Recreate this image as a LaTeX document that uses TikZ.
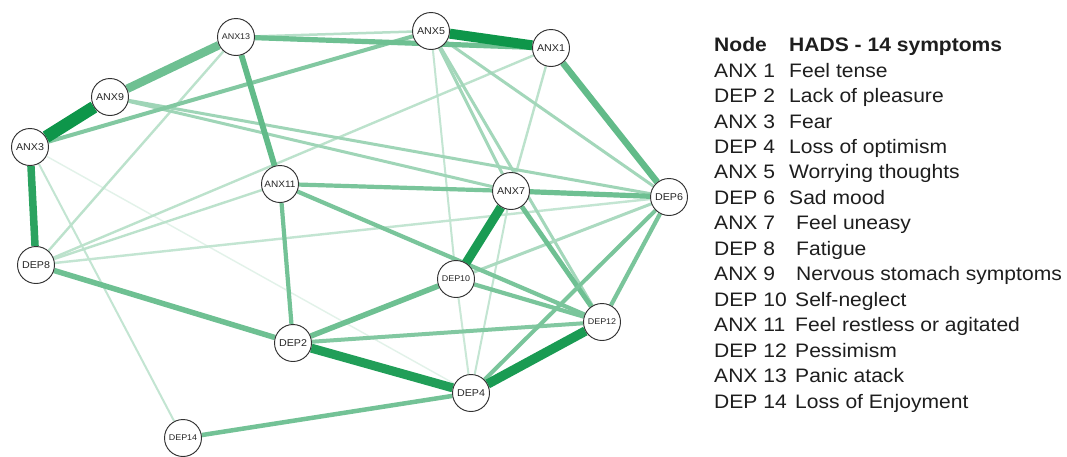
\documentclass[tikz,border=0pt]{standalone}
\usepackage{fontspec}
\setmainfont{Liberation Sans}[FakeStretch=1.08]
\pgfdeclarelayer{paper}
\pgfdeclarelayer{bg}
\pgfsetlayers{paper,bg,main}
\definecolor{edgegreen}{RGB}{14,150,74}
\definecolor{ink}{RGB}{30,30,30}
\tikzset{
  sym/.style={circle, draw=black!80, line width=0.95pt, fill=white, minimum size=37pt,
              inner sep=0pt, text=black!85, font=\fontsize{9.9}{10}\selectfont},
  symsmall/.style={sym, font=\fontsize{8.3}{9}\selectfont},
  e/.style 2 args={line width=#1pt, draw=edgegreen!#2!white},
  legend/.style={anchor=base west, inner sep=0pt, text=ink, font=\fontsize{19.5}{20}\selectfont},
}
\begin{document}
\begin{tikzpicture}[x=1pt, y=-1pt]
\begin{pgfonlayer}{paper}
\path[use as bounding box, fill=white] (0,0) rectangle (1067,455);
\end{pgfonlayer}

% symptom nodes
\node[symsmall] (anx13) at (236,37) {ANX13};
\node[sym] (anx5) at (431,31) {ANX5};
\node[sym] (anx1) at (551,48) {ANX1};
\node[sym] (anx9) at (110,97) {ANX9};
\node[sym] (anx3) at (30,147) {ANX3};
\node[symsmall, font=\fontsize{9.3}{10}\selectfont] (anx11) at (280,184) {ANX11};
\node[sym] (anx7) at (511,191) {ANX7};
\node[sym] (dep6) at (669,197) {DEP6};
\node[sym] (dep8) at (36,265) {DEP8};
\node[symsmall] (dep10) at (456,279) {DEP10};
\node[symsmall] (dep12) at (602,322) {DEP12};
\node[sym] (dep2) at (293,343) {DEP2};
\node[sym] (dep4) at (471,393) {DEP4};
\node[symsmall] (dep14) at (183,438) {DEP14};

\begin{pgfonlayer}{bg}
% weak associations
\draw[e={1.4}{12}] (anx3) -- (dep4);
\draw[e={2}{25}] (anx3) -- (dep14);
\draw[e={2}{25}] (anx5) -- (dep10);
\draw[e={2}{22}] (dep10) -- (dep4);
\draw[e={2}{25}] (anx7) -- (dep4);
\draw[e={2.4}{28}] (dep8) -- (anx13);
\draw[e={2.4}{28}] (dep8) -- (anx1);
\draw[e={2.4}{28}] (dep8) -- (anx11);
\draw[e={2.4}{25}] (dep8) -- (dep6);
\draw[e={2.4}{28}] (anx1) -- (anx7);
\draw[e={2.5}{30}] (anx13) -- (anx5);
\draw[e={3}{38}] (anx5) -- (anx7);
\draw[e={3}{38}] (anx5) -- (dep12);
\draw[e={3}{38}] (anx5) -- (dep6);
\draw[e={3}{40}] (anx9) -- (dep6);
\draw[e={3}{40}] (anx9) -- (anx7);
\draw[e={3}{35}] (dep10) -- (dep6);
% moderate associations
\draw[e={4}{52}] (anx3) -- (anx5);
\draw[e={4.2}{55}] (anx11) -- (anx7);
\draw[e={4.2}{55}] (anx11) -- (dep12);
\draw[e={4.2}{58}] (anx11) -- (dep2);
\draw[e={4}{52}] (dep2) -- (dep12);
\draw[e={4.2}{55}] (dep10) -- (dep12);
\draw[e={4.8}{60}] (anx7) -- (dep12);
\draw[e={4.2}{55}] (dep6) -- (dep12);
\draw[e={4}{55}] (dep6) -- (dep4);
\draw[e={4.5}{58}] (dep4) -- (dep14);
\draw[e={5.5}{60}] (dep2) -- (dep10);
\draw[e={5.5}{60}] (dep8) -- (dep2);
\draw[e={5.2}{60}] (anx7) -- (dep6);
\draw[e={5.2}{60}] (anx13) -- (anx1);
\draw[e={5.8}{65}] (anx13) -- (anx11);
\draw[e={6.5}{65}] (anx1) -- (dep6);
\draw[e={8.5}{60}] (anx13) -- (anx9);
% strong associations
\draw[e={7.5}{88}] (anx3) -- (dep8);
\draw[e={9}{95}] (anx7) -- (dep10);
\draw[e={9}{92}] (dep2) -- (dep4);
\draw[e={9.5}{95}] (dep4) -- (dep12);
\draw[e={10}{100}] (anx5) -- (anx1);
\draw[e={12.5}{100}] (anx9) -- (anx3);
\end{pgfonlayer}

% legend
\node[legend, font=\bfseries\fontsize{19.5}{20}\selectfont] (h1) at (714,51.7) {Node};
\node[legend, font=\bfseries\fontsize{19.5}{20}\selectfont] (h2) at (789,51.7) {HADS - 14 symptoms};
\foreach \code/\desc/\cx [count=\i] in {
  ANX 1/Feel tense/789,
  DEP 2/Lack of pleasure/789,
  ANX 3/Fear/789,
  DEP 4/Loss of optimism/789,
  ANX 5/Worrying thoughts/789,
  DEP 6/Sad mood/789,
  ANX 7/Feel uneasy/796,
  DEP 8/Fatigue/796,
  ANX 9/Nervous stomach symptoms/796,
  DEP 10/Self-neglect/795,
  ANX 11/Feel restless or agitated/795,
  DEP 12/Pessimism/795,
  ANX 13/Panic atack/795,
  DEP 14/Loss of Enjoyment/795}{
  \node[legend] (code\i) at (714,51.7+25.45*\i) {\code};
  \node[legend] (desc\i) at (\cx,51.7+25.45*\i) {\desc};
}
\end{tikzpicture}
\end{document}
